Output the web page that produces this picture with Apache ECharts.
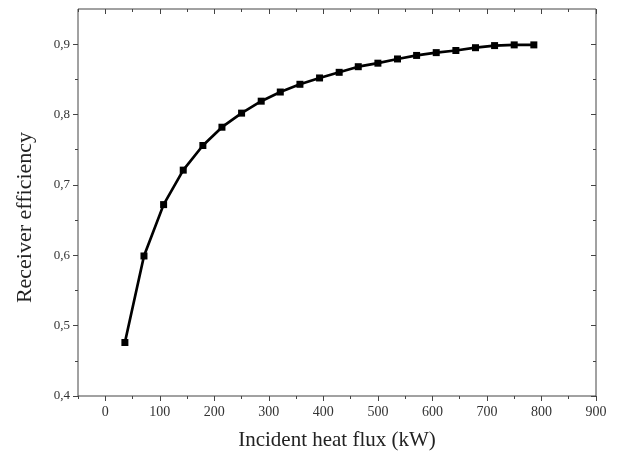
<!DOCTYPE html>
<html>
<head>
<meta charset="utf-8">
<script src="https://cdn.jsdelivr.net/npm/echarts@6/dist/echarts.min.js"></script>
<style>html,body{margin:0;padding:0;background:#fff}#c{width:620px;height:453px}</style>
</head>
<body>
<div id="c"></div>
<script>
const fluxKW = [36, 71, 107, 143, 179, 214, 250, 286, 321, 357, 393, 429, 464, 500, 536, 571, 607, 643, 679, 714, 750, 786];
const efficiency = [0.476, 0.599, 0.672, 0.721, 0.756, 0.782, 0.802, 0.819, 0.832, 0.843, 0.852, 0.860, 0.868, 0.873, 0.879, 0.884, 0.888, 0.891, 0.895, 0.898, 0.899, 0.899];
const xTicks = [0, 100, 200, 300, 400, 500, 600, 700, 800, 900];
const xMinorTicks = [-50, 50, 150, 250, 350, 450, 550, 650, 750, 850];
const yTicks = [0.4, 0.5, 0.6, 0.7, 0.8, 0.9];
const yMinorTicks = [0.45, 0.55, 0.65, 0.75, 0.85];
const xTitle = 'Incident heat flux (kW)';
const yTitle = 'Receiver efficiency';

const font = 'Liberation Serif';
const axisColor = '#444';
const X_MIN = -50, X_MAX = 900, Y_MIN = 0.4, Y_MAX = 0.95;

function xAx(pos, vals, len, inside, opts) {
  return Object.assign({
    type: 'value', min: X_MIN, max: X_MAX, position: pos,
    axisLine: { show: false, onZero: false },
    splitLine: { show: false },
    axisTick: { show: true, customValues: vals, length: len, inside: inside, lineStyle: { color: axisColor, width: 1 } },
    axisLabel: { show: false }
  }, opts || {});
}
function yAx(pos, vals, len, inside, opts) {
  return Object.assign({
    type: 'value', min: Y_MIN, max: Y_MAX, position: pos,
    axisLine: { show: false, onZero: false },
    splitLine: { show: false },
    axisTick: { show: true, customValues: vals, length: len, inside: inside, lineStyle: { color: axisColor, width: 1 } },
    axisLabel: { show: false }
  }, opts || {});
}

const chart = echarts.init(document.getElementById('c'), null, { renderer: 'canvas' });
chart.setOption({
  animation: false,
  backgroundColor: '#fff',
  grid: { left: 78, right: 24, top: 9, bottom: 57, show: true, borderColor: axisColor, borderWidth: 1, containLabel: false, outerBoundsMode: 'none' },
  xAxis: [
    xAx('bottom', xTicks, 5, false, {
      name: xTitle, nameLocation: 'middle', nameGap: 34,
      nameTextStyle: { fontFamily: font, fontSize: 21, color: '#222' },
      axisLabel: { show: true, customValues: xTicks, margin: 9, fontFamily: font, fontSize: 14, color: '#333' }
    }),
    xAx('bottom', xMinorTicks, 3, false),
    xAx('top', xTicks, 5, true),
    xAx('top', xMinorTicks, 3, true)
  ],
  yAxis: [
    yAx('left', yTicks, 5, false, {
      name: yTitle, nameLocation: 'middle', nameGap: 42,
      nameTextStyle: { fontFamily: font, fontSize: 22, color: '#222', padding: [0, 30, 0, 0] },
      axisLabel: { show: true, customValues: yTicks, margin: 8, fontFamily: font, fontSize: 13, color: '#333',
        formatter: v => v.toFixed(1).replace('.', ',') }
    }),
    yAx('left', yMinorTicks, 3, false),
    yAx('right', yTicks, 5, true),
    yAx('right', yMinorTicks, 3, true)
  ],
  series: [{
    type: 'line',
    xAxisIndex: 0, yAxisIndex: 0,
    data: fluxKW.map((x, i) => [x, efficiency[i]]),
    symbol: 'rect', symbolSize: 7,
    lineStyle: { color: '#000', width: 2.7 },
    itemStyle: { color: '#000' },
    showSymbol: true
  }]
});
</script>
</body>
</html>
